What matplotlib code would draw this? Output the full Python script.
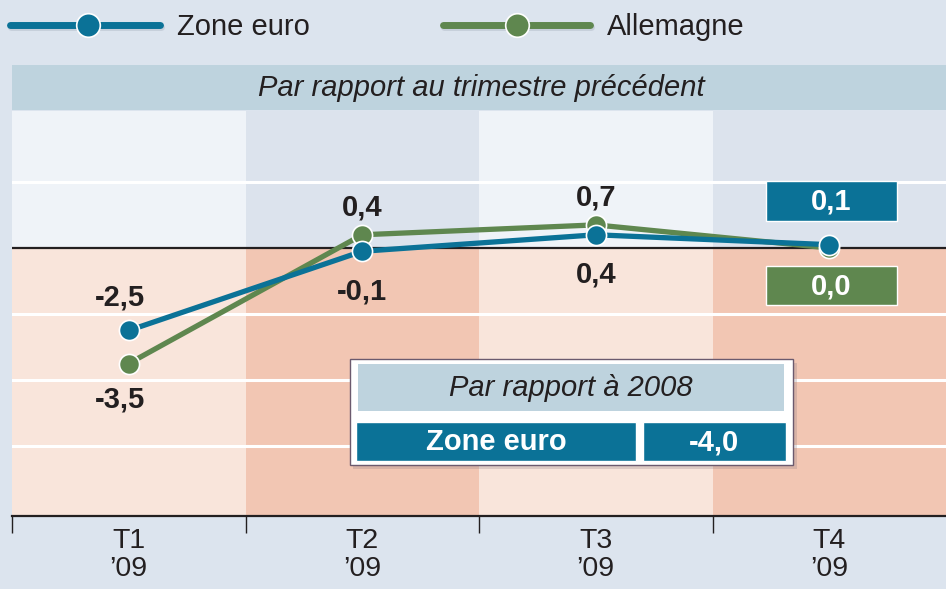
import matplotlib
matplotlib.use("Agg")
import matplotlib.pyplot as plt
from matplotlib.patches import Rectangle
from matplotlib.lines import Line2D

plt.rcParams['font.family'] = ['Liberation Sans', 'DejaVu Sans']

# ---- data ----
quarters = ["T1\n\u201909", "T2\n\u201909", "T3\n\u201909", "T4\n\u201909"]
zone_euro = [-2.5, -0.1, 0.4, 0.1]
allemagne = [-3.5, 0.4, 0.7, 0.0]
series_names = ["Zone euro", "Allemagne"]
annual_label = "Zone euro"
annual_value = -4.0
header_text = "Par rapport au trimestre pr\u00e9c\u00e9dent"
inset_title = "Par rapport \u00e0 2008"
gridlines = [2, -2, -4, -6]

# ---- style ----
BLUE = "#0b7297"
GREEN = "#5f874f"
BG = "#dce4ee"
UP_LIGHT = "#eff3f8"
UP_DARK = "#dce3ed"
LO_LIGHT = "#f9e5db"
LO_DARK = "#f2c6b3"
HEAD = "#bed3de"
TXT = "#231f20"
FS = 21

W, H = 946, 589
fig = plt.figure(figsize=(W / 100, H / 100), dpi=100, facecolor=BG)

def fx(x):
    return x / W

def fy(y):
    return 1 - y / H

ax = fig.add_axes([fx(12), fy(516), fx(946) - fx(12), fy(111) - fy(516)])
ax.set_facecolor(BG)
ymin, ymax = -8.12, 4.15
ax.set_xlim(-0.5, 3.5)
ax.set_ylim(ymin, ymax)

n = len(quarters)
for i in range(n):
    up = UP_LIGHT if i % 2 == 0 else UP_DARK
    lo = LO_LIGHT if i % 2 == 0 else LO_DARK
    ax.add_patch(Rectangle((i - 0.5, 0), 1, ymax, facecolor=up, edgecolor='none', zorder=0))
    ax.add_patch(Rectangle((i - 0.5, ymin), 1, -ymin, facecolor=lo, edgecolor='none', zorder=0))

for g in gridlines:
    ax.axhline(g, color='white', lw=2.2, zorder=1)
ax.axhline(0, color=TXT, lw=1.6, zorder=2)

xs = list(range(n))
ax.plot(xs, allemagne, color=GREEN, lw=3.8, marker='o', ms=14.5,
        markerfacecolor=GREEN, markeredgecolor='white', markeredgewidth=1.2, zorder=4,
        solid_capstyle='round')
ax.plot(xs, zone_euro, color=BLUE, lw=3.8, marker='o', ms=14.5,
        markerfacecolor=BLUE, markeredgecolor='white', markeredgewidth=1.2, zorder=5,
        solid_capstyle='round')

def fmt(v):
    return f"{v:.1f}".replace('.', ',')

lab_kw = dict(fontsize=FS, fontweight='bold', color=TXT, ha='center', va='center',
              textcoords='offset pixels', zorder=6)
ax.annotate(fmt(zone_euro[0]), (0, zone_euro[0]), xytext=(-9, 33), **lab_kw)
ax.annotate(fmt(allemagne[0]), (0, allemagne[0]), xytext=(-9, -36), **lab_kw)
for i in (1, 2):
    ax.annotate(fmt(allemagne[i]), (i, allemagne[i]), xytext=(0, 27), **lab_kw)
    ax.annotate(fmt(zone_euro[i]), (i, zone_euro[i]), xytext=(0, -40), **lab_kw)

ax.spines[['top', 'right', 'left']].set_visible(False)
ax.spines['bottom'].set_color(TXT)
ax.spines['bottom'].set_linewidth(1.6)
ax.set_yticks([])
ax.set_xticks(xs)
ax.set_xticklabels(quarters, fontsize=20.5, color=TXT, linespacing=1.05)
ax.set_xticks([-0.5, 0.5, 1.5, 2.5], minor=True)
ax.tick_params(axis='x', which='major', length=0, pad=9)
ax.tick_params(axis='x', which='minor', length=12, width=1.0, color=TXT, direction='out')

# ---- header band ----
fig.add_artist(Rectangle((fx(12), fy(110)), fx(946) - fx(12), fy(65) - fy(110),
                         transform=fig.transFigure, facecolor=HEAD, edgecolor='none'))
fig.text(fx(481), fy(88), header_text, fontsize=FS, style='italic', color=TXT,
         ha='center', va='center')

# ---- legend ----
leg = [(10, 160, 88, 177, BLUE, series_names[0]), (443, 590, 517, 607, GREEN, series_names[1])]
for x0, x1, xm, xt, c, name in leg:
    fig.add_artist(Line2D([fx(x0 + 1), fx(x1 + 1)], [fy(27), fy(27)], transform=fig.transFigure,
                          color='#b9c2cf', lw=5, solid_capstyle='round', alpha=0.6))
    fig.add_artist(Line2D([fx(x0), fx(x1)], [fy(25), fy(25)], transform=fig.transFigure,
                          color=c, lw=5, solid_capstyle='round'))
    fig.add_artist(Line2D([fx(xm)], [fy(25)], transform=fig.transFigure, marker='o', ms=17,
                          markerfacecolor=c, markeredgecolor='white', markeredgewidth=1.2))
    fig.text(fx(xt), fy(27), name, fontsize=FS, color=TXT, ha='left', va='center')

# ---- T4 value boxes ----
box_kw = dict(fontsize=FS, fontweight='bold', color='white', ha='center', va='center')
def vbox(x0, y0, x1, y1, color, text):
    fig.add_artist(Rectangle((fx(x0), fy(y1)), fx(x1) - fx(x0), fy(y0) - fy(y1),
                             transform=fig.transFigure, facecolor=color, edgecolor='white', lw=1.0))
    fig.text(fx((x0 + x1) / 2), fy((y0 + y1) / 2 + 1), text, **box_kw)

vbox(766, 181, 897, 221, BLUE, fmt(zone_euro[3]))
vbox(766, 266, 897, 305, GREEN, fmt(allemagne[3]))

# ---- inset box ----
fig.add_artist(Rectangle((fx(353), fy(469)), fx(797) - fx(353), fy(363) - fy(469),
                         transform=fig.transFigure, facecolor='#8a7a80', edgecolor='none', alpha=0.25))
fig.add_artist(Rectangle((fx(350), fy(465)), fx(793) - fx(350), fy(359) - fy(465),
                         transform=fig.transFigure, facecolor='white', edgecolor='#6b5a6e', lw=1.0))
fig.add_artist(Rectangle((fx(358), fy(411)), fx(784) - fx(358), fy(364) - fy(411),
                         transform=fig.transFigure, facecolor=HEAD, edgecolor='none'))
fig.text(fx(571), fy(388), inset_title, fontsize=FS, style='italic', color=TXT,
         ha='center', va='center')
vbox(356, 422, 636, 461, BLUE, annual_label)
vbox(643, 422, 786, 461, BLUE, fmt(annual_value))

fig.savefig("out.png", dpi=100, facecolor=BG)
